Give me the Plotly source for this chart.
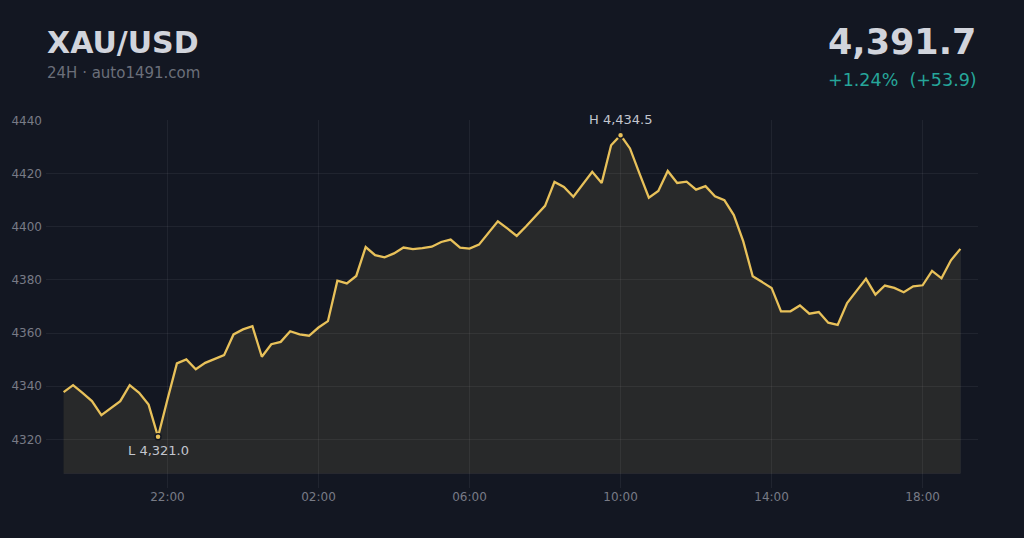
import pandas as pd
import plotly.graph_objects as go

# ---------------- data ----------------
symbol = "XAU/USD"
subtitle = "24H · auto1491.com"
start_time = "2024-05-13 19:15"
step = "15min"
prices = [
    4337.8, 4340.4, 4337.5, 4334.4, 4329.1, 4331.9, 4334.4, 4340.4, 4337.5, 4333.1,
    4321.0, 4335.0, 4348.6, 4350.1, 4346.4, 4348.8, 4350.2, 4351.7, 4359.5, 4361.4,
    4362.6, 4351.1, 4355.8, 4356.7, 4360.7, 4359.5, 4359.0, 4362.1, 4364.5, 4379.7,
    4378.7, 4381.5, 4392.4, 4389.3, 4388.5, 4390.0, 4392.2, 4391.6, 4392.0, 4392.5,
    4394.3, 4395.2, 4392.2, 4391.8, 4393.3, 4397.7, 4402.1, 4399.4, 4396.6, 4400.2,
    4404.1, 4407.9, 4416.9, 4415.0, 4411.3, 4416.0, 4420.7, 4416.5, 4430.7, 4434.5,
    4429.5, 4420.1, 4411.0, 4413.5, 4421.0, 4416.5, 4417.0, 4414.0, 4415.3, 4411.5,
    4410.0, 4404.4, 4394.5, 4381.4, 4379.3, 4377.0, 4368.2, 4368.2, 4370.4, 4367.3,
    4367.9, 4363.9, 4363.1, 4371.3, 4375.9, 4380.4, 4374.5, 4377.9, 4377.0, 4375.4,
    4377.6, 4378.0, 4383.4, 4380.6, 4387.4, 4391.7,
]
y_tick_vals = [4320, 4340, 4360, 4380, 4400, 4420, 4440]
x_tick_vals = ["2024-05-13 22:00", "2024-05-14 02:00", "2024-05-14 06:00",
               "2024-05-14 10:00", "2024-05-14 14:00", "2024-05-14 18:00"]
x_tick_text = ["22:00", "02:00", "06:00", "10:00", "14:00", "18:00"]
x_range = ["2024-05-13 18:47", "2024-05-14 19:28"]
y_range = [4301.7, 4440.2]
fill_base = 4307.2

times = list(pd.date_range(start_time, periods=len(prices), freq=step))
last = prices[-1]
first = prices[0]
chg = last - first
pct = chg / first * 100
hi = max(prices)
lo = min(prices)
i_hi = prices.index(hi)
i_lo = prices.index(lo)

# ---------------- style ----------------
BG = "#131722"
LINE = "#e8c15a"
TEXT = "#d1d4dc"
MUTED = "#6b6f7a"
TICK = "#787b86"
TEAL = "#26a69a"
GRID = "rgba(255,255,255,0.06)"
FONT = "DejaVu Sans"

W, H = 1024, 538
ML, MR, MT, MB = 46, 46, 120, 50
PW, PH = W - ML - MR, H - MT - MB


def px(x):
    return (x - ML) / PW


def py(y):
    return (H - MB - y) / PH


fig = go.Figure()

# filled area polygon
fig.add_trace(go.Scatter(
    x=times + [times[-1], times[0]],
    y=prices + [fill_base, fill_base],
    mode="lines", fill="toself",
    fillcolor="rgba(228,196,110,0.105)",
    line=dict(color="rgba(255,255,255,0.05)", width=1),
    hoverinfo="skip", showlegend=False,
))

# price line
fig.add_trace(go.Scatter(
    x=times, y=prices, mode="lines",
    line=dict(color=LINE, width=2.3),
    showlegend=False,
))

# high / low markers
fig.add_trace(go.Scatter(
    x=[times[i_hi], times[i_lo]], y=[hi, lo], mode="markers",
    marker=dict(color=LINE, size=6, line=dict(color=BG, width=1.5)),
    showlegend=False,
))

fig.add_annotation(x=times[i_hi], y=hi, text=f"H {hi:,.1f}", showarrow=False,
                   yanchor="bottom", yshift=6, font=dict(family=FONT, size=13, color="#c3c6cf"))
fig.add_annotation(x=times[i_lo], y=lo, text=f"L {lo:,.1f}", showarrow=False,
                   yanchor="top", yshift=-4, font=dict(family=FONT, size=13, color="#c3c6cf"))

# header texts
fig.add_annotation(xref="paper", yref="paper", x=px(45), y=py(42), xanchor="left", yanchor="middle",
                   text=f"<b>{symbol}</b>", showarrow=False,
                   font=dict(family=FONT, size=30, color=TEXT))
fig.add_annotation(xref="paper", yref="paper", x=px(45), y=py(73), xanchor="left", yanchor="middle",
                   text=subtitle, showarrow=False,
                   font=dict(family=FONT, size=15, color=MUTED))
fig.add_annotation(xref="paper", yref="paper", x=px(978), y=py(42), xanchor="right", yanchor="middle",
                   text=f"<b>{last:,.1f}</b>", showarrow=False,
                   font=dict(family=FONT, size=35, color=TEXT))
fig.add_annotation(xref="paper", yref="paper", x=px(979), y=py(80), xanchor="right", yanchor="middle",
                   text=f"+{pct:.2f}%\u00a0\u00a0(+{chg:.1f})", showarrow=False,
                   font=dict(family=FONT, size=17.5, color=TEAL))

fig.update_layout(
    width=W, height=H,
    margin=dict(l=ML, r=MR, t=MT, b=MB, pad=0, autoexpand=False),
    paper_bgcolor=BG, plot_bgcolor=BG,
    font=dict(family=FONT, color=TICK),
    showlegend=False,
    hovermode=False,
)
fig.update_xaxes(
    type="date", range=x_range, automargin=False,
    tickvals=x_tick_vals, ticktext=x_tick_text,
    showgrid=True, gridcolor=GRID, gridwidth=1,
    zeroline=False, showline=False, ticks="",
    tickfont=dict(family=FONT, size=12, color=TICK),
)
fig.update_yaxes(
    range=y_range, tickvals=y_tick_vals, automargin=False,
    showgrid=True, gridcolor=GRID, gridwidth=1,
    zeroline=False, showline=False, ticks="",
    tickfont=dict(family=FONT, size=12, color=TICK),
    ticklabelstandoff=3,
)

fig.write_html("out.html", config={"displayModeBar": False},
               post_script="document.body.style.margin='0';document.body.style.overflow='hidden';")
